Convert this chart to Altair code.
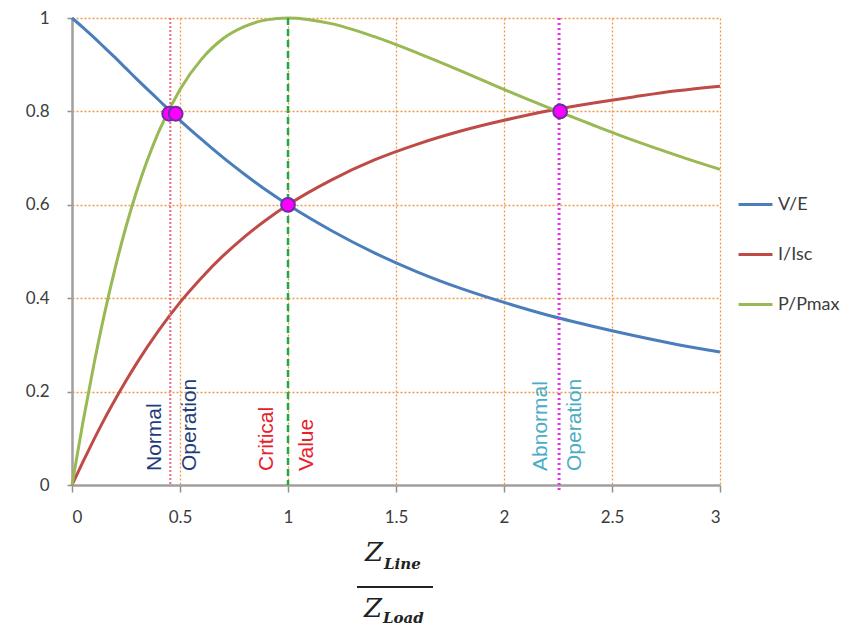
import altair as alt
import pandas as pd

# ---- data ----
z_vals = [0, 0.05, 0.1, 0.15, 0.2, 0.25, 0.3, 0.4, 0.5, 0.6, 0.7, 0.8, 0.9, 1.0,
          1.2, 1.4, 1.6, 1.8, 2.0, 2.2, 2.4, 2.6, 2.8, 3.0]
v_over_e = [1.0, 0.980, 0.959, 0.937, 0.915, 0.892, 0.869, 0.825, 0.781, 0.740, 0.701,
            0.665, 0.631, 0.600, 0.545, 0.497, 0.456, 0.421, 0.391, 0.364, 0.341,
            0.320, 0.301, 0.285]
i_over_isc = [0.0, 0.049, 0.096, 0.141, 0.183, 0.223, 0.261, 0.330, 0.391, 0.444, 0.491,
              0.532, 0.568, 0.600, 0.653, 0.696, 0.730, 0.758, 0.781, 0.801, 0.817,
              0.831, 0.844, 0.854]
p_over_pmax = [0.0, 0.133, 0.255, 0.366, 0.465, 0.553, 0.630, 0.755, 0.847, 0.912, 0.956,
               0.982, 0.996, 1.0, 0.988, 0.960, 0.925, 0.887, 0.847, 0.809, 0.773,
               0.738, 0.706, 0.676]
series_names = ["V/E", "I/Isc", "P/Pmax"]
series_colors = ["#4A7EBB", "#BE4B48", "#98B954"]

marker_x = [0.45, 0.48, 1.0, 2.26]
marker_y = [0.795, 0.795, 0.6, 0.8]

vline_x = [0.455, 1.0, 2.255]

ann_text = ["Normal", "Operation", "Critical", "Value", "Abnormal", "Operation"]
ann_x = [0.385, 0.548, 0.905, 1.087, 2.172, 2.33]
ann_color = ["#1F3D7A", "#1F3D7A", "#E8202A", "#E8202A", "#4BACC6", "#4BACC6"]

x_ticks = [0, 0.5, 1, 1.5, 2, 2.5, 3]
y_ticks = [0, 0.2, 0.4, 0.6, 0.8, 1]

# ---- tables ----
rows = []
for name, vals in zip(series_names, [v_over_e, i_over_isc, p_over_pmax]):
    for zz, vv in zip(z_vals, vals):
        rows.append({"z": zz, "value": vv, "series": name})
curves = pd.DataFrame(rows)
markers = pd.DataFrame({"z": marker_x, "value": marker_y})
anns = pd.DataFrame({"z": ann_x, "text": ann_text, "color": ann_color, "y": [0.03] * 6})

TOP = 10
W, H = 648, 467
xs = alt.Scale(domain=[0, 3], nice=False)
ys = alt.Scale(domain=[0, 1], nice=False)

xaxis = alt.Axis(values=x_ticks, format=".1~f", title=None, grid=True,
                 labelPadding=17, tickSize=7)
yaxis = alt.Axis(values=y_ticks, format=".1~f", title=None, grid=True,
                 labelPadding=18, tickSize=5)

lines = alt.Chart(curves).mark_line(strokeWidth=3, interpolate="monotone").encode(
    x=alt.X("z:Q", scale=xs, axis=xaxis),
    y=alt.Y("value:Q", scale=ys, axis=yaxis),
    color=alt.Color("series:N",
                    scale=alt.Scale(domain=series_names, range=series_colors),
                    sort=series_names,
                    legend=alt.Legend(title=None, orient="none", legendX=665,
                                      legendY=168, symbolType="stroke",
                                      symbolSize=1150, symbolStrokeWidth=3,
                                      labelFontSize=18, labelFont="Lato",
                                      labelColor="#3C3C3C", rowPadding=22,
                                      labelOffset=4)),
)

v1 = alt.Chart(pd.DataFrame({"z": [vline_x[0]]})).mark_rule(
    color="#F06A85", strokeWidth=2, strokeDash=[2, 2]).encode(
    x=alt.X("z:Q", scale=xs), y=alt.value(0), y2=alt.value(H))
v2 = alt.Chart(pd.DataFrame({"z": [vline_x[1]]})).mark_rule(
    color="#22A847", strokeWidth=2.5, strokeDash=[7, 4]).encode(
    x=alt.X("z:Q", scale=xs), y=alt.value(0), y2=alt.value(H))
v3 = alt.Chart(pd.DataFrame({"z": [vline_x[2]]})).mark_rule(
    color="#E632E6", strokeWidth=3, strokeDash=[2, 3]).encode(
    x=alt.X("z:Q", scale=xs), y=alt.value(0), y2=alt.value(H + 5))

pts = alt.Chart(markers).mark_point(filled=True, size=190, shape="circle",
                                    color="#FF00FF", stroke="#6A2FA0",
                                    strokeWidth=2, opacity=1).encode(
    x=alt.X("z:Q", scale=xs), y=alt.Y("value:Q", scale=ys))

texts = alt.Chart(anns).mark_text(angle=270, align="left", baseline="middle",
                                  fontSize=21, font="Liberation Sans").encode(
    x=alt.X("z:Q", scale=xs), y=alt.Y("y:Q", scale=ys),
    text="text:N", color=alt.Color("color:N", scale=None))

# x-axis title as a fraction Z_Line / Z_Load (pixel offsets from plot top)
tfont = "DejaVu Serif"
t_z1 = alt.Chart(pd.DataFrame({"t": ["Z"]})).mark_text(
    align="right", baseline="alphabetic", fontSize=26, font=tfont,
    fontStyle="italic", color="#222222").encode(
    x=alt.value(311), y=alt.value(553 - TOP), text="t:N")
t_s1 = alt.Chart(pd.DataFrame({"t": ["Line"]})).mark_text(
    align="left", baseline="alphabetic", fontSize=15, font=tfont,
    fontStyle="italic", fontWeight="bold", color="#222222").encode(
    x=alt.value(312), y=alt.value(561 - TOP), text="t:N")
t_bar = alt.Chart(pd.DataFrame({"t": [1]})).mark_rule(
    color="#222222", strokeWidth=2).encode(
    x=alt.value(285), x2=alt.value(361), y=alt.value(579 - TOP))
t_z2 = alt.Chart(pd.DataFrame({"t": ["Z"]})).mark_text(
    align="right", baseline="alphabetic", fontSize=26, font=tfont,
    fontStyle="italic", color="#222222").encode(
    x=alt.value(310), y=alt.value(609 - TOP), text="t:N")
t_s2 = alt.Chart(pd.DataFrame({"t": ["Load"]})).mark_text(
    align="left", baseline="alphabetic", fontSize=15, font=tfont,
    fontStyle="italic", fontWeight="bold", color="#222222").encode(
    x=alt.value(311), y=alt.value(615 - TOP), text="t:N")

chart = alt.layer(lines, v1, v2, v3, pts, texts, t_z1, t_s1, t_bar, t_z2, t_s2).properties(
    width=W, height=H,
    background="white",
    autosize=alt.AutoSizeParams(type="none"),
    padding={"left": 64, "top": TOP, "right": 136, "bottom": 141},
).configure_view(stroke=None).configure_axis(
    gridColor="#EE9A48", gridDash=[2, 2], gridWidth=1.3, gridOpacity=1,
    domainColor="#A0A0A0", domainWidth=2.5, tickColor="#909090", tickWidth=1.5,
    labelFont="Lato", labelFontSize=17, labelColor="#3C3C3C",
)

chart.save("out.html", embed_options={"renderer": "svg", "actions": False})
